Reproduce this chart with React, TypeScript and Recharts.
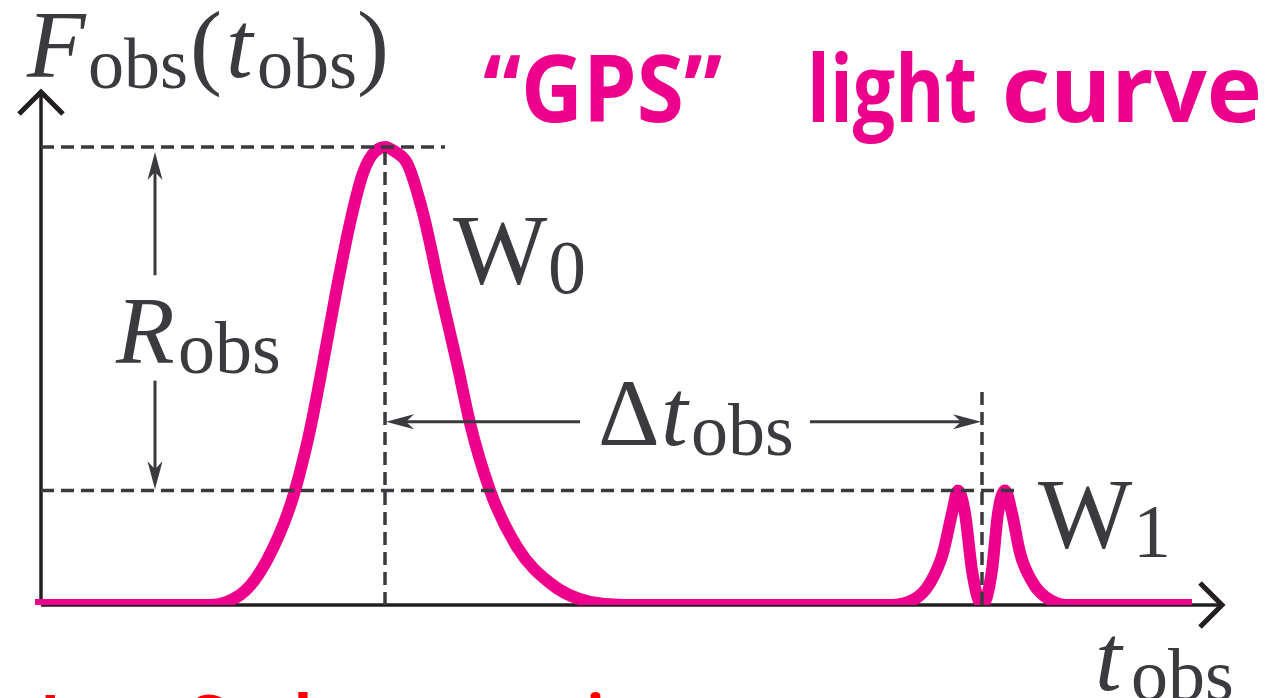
import React from 'react';
import { LineChart, Line, XAxis, YAxis, ReferenceLine } from 'recharts';

// light curve samples: observed time (arbitrary units) and normalised flux
const times = [
  0, 17.5, 20.5, 23.2, 26.0, 27.5, 28.8, 30.2, 31.5, 32.8, 34.0, 35.0, 36.0, 37.2, 38.8, 40.5,
  42.2, 43.5, 45.5, 48.2, 51.5, 55.5, 58.8, 85.8, 87.8, 89.5, 90.8, 91.7, 92.3, 93.0, 93.7,
  94.7, 95.7, 96.3, 97.0, 97.7, 98.5, 99.8, 101.5, 103.2, 115.7,
];
const flux = [
  0, 0, 0.022, 0.098, 0.25, 0.382, 0.528, 0.694, 0.834, 0.943, 0.99, 1.0, 0.99, 0.965, 0.856, 0.688,
  0.528, 0.397, 0.25, 0.127, 0.048, 0.007, 0, 0, 0.011, 0.048, 0.114, 0.2, 0.25, 0.2, 0.076,
  0, 0.076, 0.2, 0.25, 0.2, 0.114, 0.048, 0.011, 0, 0,
];

// marker levels and times
const peakFlux = 1.0;
const echoFlux = 0.25;
const peakTime = 35.0;
const echoTime = 94.7;

const data = times.map((t, i) => ({ t, f: flux[i] }));

const PINK = '#ec008c';
const INK = '#3a3a3f';
const AXIS = '#231f20';
const SERIF = '"Liberation Serif", "DejaVu Serif", serif';
const SANS = '"Open Sans", "Noto Sans", sans-serif';

// line with an arrow head drawn at (x2, y2)
const ArrowLine = (props: any) => {
  const { x1, y1, x2, y2, head } = props;
  const a = Math.atan2(y2 - y1, x2 - x1);
  const rot = (lx: number, ly: number) =>
    `${x2 + lx * Math.cos(a) - ly * Math.sin(a)},${y2 + lx * Math.sin(a) + ly * Math.cos(a)}`;
  if (head === 'open') {
    return (
      <g>
        <line x1={x1} y1={y1} x2={x2} y2={y2} stroke={AXIS} strokeWidth={3.5} />
        <polyline
          points={`${rot(-22, -22)} ${rot(0, 0)} ${rot(-22, 22)}`}
          fill="none"
          stroke={AXIS}
          strokeWidth={5}
        />
      </g>
    );
  }
  const [nx, ny] = rot(-20, 0).split(',').map(Number);
  return (
    <g>
      <line x1={x1} y1={y1} x2={nx} y2={ny} stroke={INK} strokeWidth={3} />
      <polygon points={`${rot(0, 0)} ${rot(-28, 7.5)} ${rot(-20, 0)} ${rot(-28, -7.5)}`} fill={INK} />
    </g>
  );
};

const dash = { stroke: INK, strokeWidth: 3.5, strokeDasharray: '13 7', ifOverflow: 'visible' as const };

export default function App() {
  return (
    <div style={{ position: 'absolute', left: 0, top: 0, width: 1285, height: 698, background: '#fff' }}>
      <LineChart
        width={1285}
        height={698}
        data={data}
        margin={{ top: 87.5, right: 60, bottom: 93, left: 35 }}
      >
        <XAxis dataKey="t" type="number" domain={[0, 119]} allowDataOverflow hide />
        <YAxis type="number" domain={[0, 1.13]} allowDataOverflow hide />

        {/* axes */}
        <ReferenceLine
          segment={[{ x: 0.6, y: 0 }, { x: 0.6, y: 1.12 }]}
          ifOverflow="visible"
          shape={(p: any) => <ArrowLine {...p} head="open" />}
        />
        <ReferenceLine
          segment={[{ x: 0.6, y: 0 }, { x: 118.7, y: 0 }]}
          ifOverflow="visible"
          shape={(p: any) => <ArrowLine {...p} head="open" />}
        />

        <Line
          dataKey="f"
          type="monotone"
          stroke={PINK}
          strokeWidth={12}
          dot={false}
          activeDot={false}
          isAnimationActive={false}
        />

        {/* guide lines */}
        <ReferenceLine segment={[{ x: 0.6, y: peakFlux }, { x: 41, y: peakFlux }]} {...dash} />
        <ReferenceLine segment={[{ x: 0.6, y: echoFlux }, { x: 98, y: echoFlux }]} {...dash} />
        <ReferenceLine segment={[{ x: peakTime, y: 0 }, { x: peakTime, y: peakFlux }]} {...dash} />
        <ReferenceLine segment={[{ x: echoTime, y: 0 }, { x: echoTime, y: 0.48 }]} {...dash} />

        {/* R_obs and Δt_obs dimension arrows */}
        <ReferenceLine
          segment={[{ x: 12, y: 0.72 }, { x: 12, y: 0.989 }]}
          ifOverflow="visible"
          shape={(p: any) => <ArrowLine {...p} head="barb" />}
        />
        <ReferenceLine
          segment={[{ x: 12, y: 0.49 }, { x: 12, y: 0.253 }]}
          ifOverflow="visible"
          shape={(p: any) => <ArrowLine {...p} head="barb" />}
        />
        <ReferenceLine
          segment={[{ x: 54.5, y: 0.4 }, { x: peakTime + 0.1, y: 0.4 }]}
          ifOverflow="visible"
          shape={(p: any) => <ArrowLine {...p} head="barb" />}
        />
        <ReferenceLine
          segment={[{ x: 77.5, y: 0.4 }, { x: echoTime - 0.1, y: 0.4 }]}
          ifOverflow="visible"
          shape={(p: any) => <ArrowLine {...p} head="barb" />}
        />
      </LineChart>

      <svg
        width={1285}
        height={698}
        style={{ position: 'absolute', left: 0, top: 0, pointerEvents: 'none' }}
      >
        <g fill={INK} fontFamily={SERIF}>
          <text fontSize={96}>
            <tspan x={27} y={77} fontStyle="italic">F</tspan>
            <tspan x={88} y={88} fontSize={72}>obs</tspan>
            <tspan x={190} y={77}>(</tspan>
            <tspan x={226} y={77} fontStyle="italic">t</tspan>
            <tspan x={257} y={88} fontSize={72}>obs</tspan>
            <tspan x={357} y={77}>)</tspan>
          </text>
          <text fontSize={96}>
            <tspan x={116} y={363} fontStyle="italic">R</tspan>
            <tspan x={178} y={373} fontSize={74}>obs</tspan>
          </text>
          <text fontSize={100}>
            <tspan x={453} y={283}>W</tspan>
            <tspan x={548} y={293} fontSize={76}>0</tspan>
          </text>
          <text fontSize={100}>
            <tspan x={1038} y={547}>W</tspan>
            <tspan x={1133} y={557} fontSize={76}>1</tspan>
          </text>
          <text fontSize={96}>
            <tspan x={598} y={445}>Δ</tspan>
            <tspan x={661} y={445} fontStyle="italic">t</tspan>
            <tspan x={691} y={455} fontSize={74}>obs</tspan>
          </text>
          <text fontSize={96}>
            <tspan x={1095} y={690} fontStyle="italic">t</tspan>
            <tspan x={1131} y={700} fontSize={74}>obs</tspan>
          </text>
        </g>

        <g fill={PINK} fontFamily={SANS} fontWeight={700} fontSize={94}>
          <text x={483} y={122} textLength={239} lengthAdjust="spacingAndGlyphs">“GPS”</text>
          <text x={807} y={122} textLength={170} lengthAdjust="spacingAndGlyphs">light</text>
          <text x={1002} y={122} textLength={260} lengthAdjust="spacingAndGlyphs">curve</text>
        </g>

        <g fill="#ff0000" fontFamily={SANS} fontWeight={700} fontSize={62}>
          <text x={40} y={740}>Large</text>
          <text x={190} y={740}>Scale</text>
          <text x={364} y={740}>corrections</text>
        </g>
      </svg>
    </div>
  );
}
